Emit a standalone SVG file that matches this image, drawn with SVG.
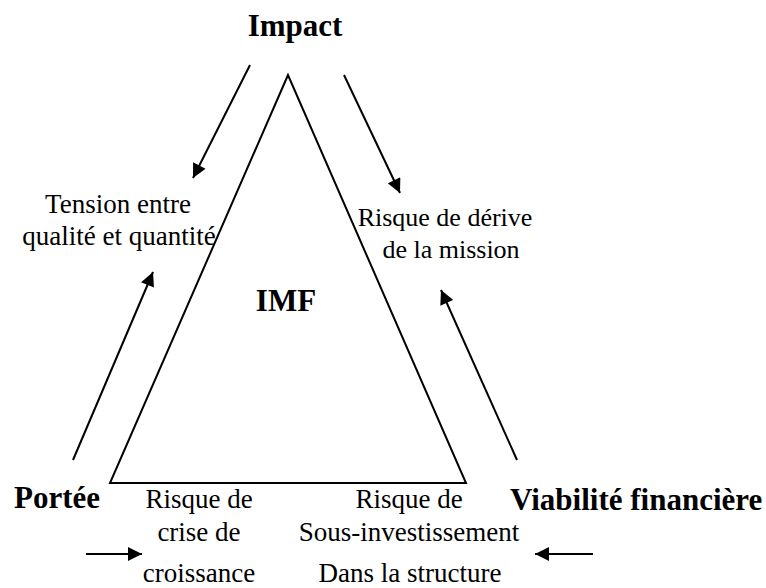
<svg xmlns="http://www.w3.org/2000/svg" width="766" height="588" viewBox="0 0 766 588">
<style>
.t{font-family:"Liberation Serif","Times New Roman",serif;font-size:27px;fill:#000;text-anchor:middle}
.b{font-family:"Liberation Serif","Times New Roman",serif;font-size:31px;font-weight:bold;fill:#000}
.ln{stroke:#000;stroke-width:2;fill:none}
</style>
<defs>
<marker id="ah2" viewBox="0 0 10 10" refX="10" refY="5" markerWidth="15" markerHeight="14" orient="auto" markerUnits="userSpaceOnUse">
<path d="M0,0 L10,5 L0,10 z" fill="#000"/>
</marker>
</defs>
<rect width="766" height="588" fill="#fff"/>
<g id="triangle">
<path class="ln" d="M288,75 L110,483 L466,483 Z"/>
</g>
<g id="connectors">
<line class="ln" x1="250" y1="65" x2="193" y2="178" marker-end="url(#ah2)"/>
<line class="ln" x1="344" y1="75" x2="400" y2="193" marker-end="url(#ah2)"/>
<line class="ln" x1="73" y1="460" x2="153" y2="272" marker-end="url(#ah2)"/>
<line class="ln" x1="517" y1="460" x2="441" y2="290" marker-end="url(#ah2)"/>
<line class="ln" x1="86" y1="554" x2="142" y2="554" marker-end="url(#ah2)"/>
<line class="ln" x1="593" y1="554" x2="535" y2="554" marker-end="url(#ah2)"/>
</g>
<g id="impact"><text class="b" x="295" y="36" text-anchor="middle">Impact</text></g>
<g id="imf"><text class="b" x="286" y="311" text-anchor="middle" font-size="29">IMF</text></g>
<g id="portee"><text class="b" x="14" y="508">Portée</text></g>
<g id="viabilite"><text class="b" x="510" y="510">Viabilité financière</text></g>
<g id="tension"><text class="t" x="118" y="213">Tension entre</text><text class="t" x="119" y="245">qualité et quantité</text></g>
<g id="derive" font-size="26"><text class="t" x="445" y="226" style="font-size:26px">Risque de dérive</text><text class="t" x="451" y="258" style="font-size:26px">de la mission</text></g>
<g id="croissance"><text class="t" x="199" y="508">Risque de</text><text class="t" x="199" y="541">crise de</text><text class="t" x="199" y="582">croissance</text></g>
<g id="sousinv"><text class="t" x="409" y="508">Risque de</text><text class="t" x="409" y="541">Sous-investissement</text><text class="t" x="410" y="582">Dans la structure</text></g>
</svg>
